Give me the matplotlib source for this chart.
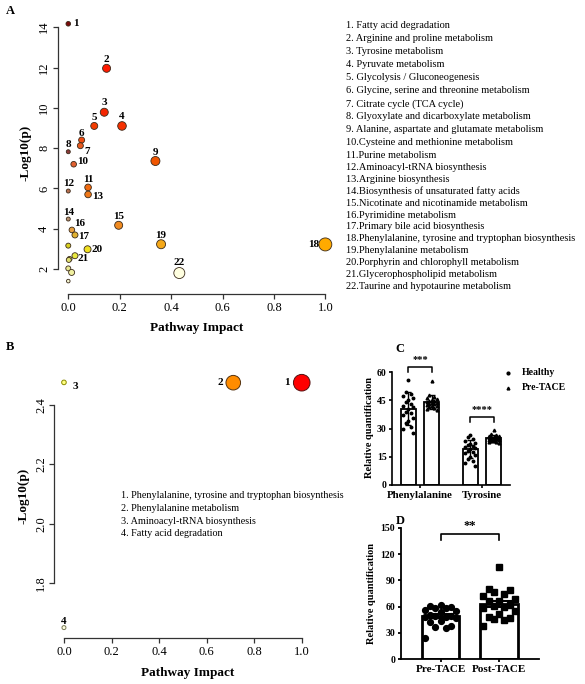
import matplotlib.pyplot as plt
from matplotlib.lines import Line2D
import numpy as np

plt.rcParams['font.family'] = ['Liberation Serif', 'DejaVu Serif']

W, H = 585, 684


def fx(px):
    return px / W


def fy(py):
    return 1 - py / H


# ---------------- data: panel A (pathway analysis, all) ----------------
a_impact = [0.0, 0.149, 0.14, 0.209, 0.101, 0.052, 0.047, 0.0, 0.339, 0.021,
            0.077, 0.0, 0.077, 0.0, 0.196, 0.014, 0.026, 1.0, 0.361, 0.075,
            0.026, 0.432, 0.0, 0.005, 0.002, 0.0, 0.013, 0.0]
a_logp = [14.17, 11.96, 9.78, 9.1, 9.1, 8.4, 8.12, 7.82, 7.36, 7.2,
          6.05, 5.87, 5.7, 4.48, 4.17, 3.94, 3.69, 3.22, 3.23, 2.98,
          2.66, 1.8, 3.16, 2.5, 2.45, 2.03, 1.83, 1.40]
a_labels = [str(i) for i in range(1, 23)] + ['', '', '', '', '', '']
a_colors = ['#7A0A0A', '#FF1A00', '#F52500', '#F53000', '#F23C00', '#F04A10',
            '#E85A20', '#8B3A3A', '#F05500', '#E06030', '#F06A10', '#B87050',
            '#F07818', '#B89070', '#F08A20', '#E8A040', '#E0B030', '#FFAA00',
            '#F5A818', '#F0E020', '#E8E840', '#FFFFE0', '#D8D020', '#D8E050',
            '#E0E070', '#E8E890', '#F0F0A0', '#F5F5D0']
a_radius = [2.3, 4.0, 4.0, 4.3, 3.5, 3.0, 3.0, 2.0, 4.5, 2.8,
            3.3, 2.0, 3.3, 2.0, 4.0, 2.8, 3.0, 6.5, 4.5, 3.5,
            3.0, 5.5, 2.5, 2.5, 2.5, 2.5, 3.0, 1.8]
# label placement (pixel offsets, alignment)
a_offsets = [(4.5, 0, 'left'), (0, 9, 'center'), (0, 10, 'center'), (0, 9, 'center'),
             (0, 8, 'center'), (0, 7, 'center'), (4.5, -6, 'left'), (0, 7.5, 'center'),
             (0, 9, 'center'), (3, 2.5, 'left'), (0, 8, 'center'), (0, 8, 'center'),
             (4, -2, 'left'), (0, 7, 'center'), (0, 9, 'center'), (2.5, 6, 'left'),
             (3.6, -1.3, 'left'), (-6, 0, 'right'), (0, 9, 'center'), (4.4, 0, 'left'),
             (2.6, -2.6, 'left'), (0, 11, 'center')]

a_pathways = ['Fatty acid degradation', 'Arginine and proline metabolism',
              'Tyrosine metabolism', 'Pyruvate metabolism',
              'Glycolysis / Gluconeogenesis', 'Glycine, serine and threonine metabolism',
              'Citrate cycle (TCA cycle)', 'Glyoxylate and dicarboxylate metabolism',
              'Alanine, aspartate and glutamate metabolism',
              'Cysteine and methionine metabolism', 'Purine metabolism',
              'Aminoacyl-tRNA biosynthesis', 'Arginine biosynthesis',
              'Biosynthesis of unsaturated fatty acids',
              'Nicotinate and nicotinamide metabolism', 'Pyrimidine metabolism',
              'Primary bile acid biosynthesis',
              'Phenylalanine, tyrosine and tryptophan biosynthesis',
              'Phenylalanine metabolism', 'Porphyrin and chlorophyll metabolism',
              'Glycerophospholipid metabolism', 'Taurine and hypotaurine metabolism']

# ---------------- data: panel B ----------------
b_impact = [1.0, 0.712, 0.0, 0.0]
b_logp = [2.475, 2.475, 2.476, 1.65]
b_labels = ['1', '2', '3', '4']
b_colors = ['#FF0000', '#FF8C00', '#FFFF80', '#FFFFE0']
b_edges = ['#551111', '#553311', '#8A8A00', '#777755']
b_radius = [8.3, 7.3, 2.3, 2.0]
b_offsets = [(-12, 0, 'right'), (-10.5, 0, 'right'), (8.5, -4, 'left'), (0, 6, 'center')]
b_pathways = ['Phenylalanine, tyrosine and tryptophan biosynthesis',
              'Phenylalanine metabolism', 'Aminoacyl-tRNA biosynthesis',
              'Fatty acid degradation']

# ---------------- data: panel C ----------------
c_groups = ['Phenylalanine', 'Tyrosine']
c_mean_healthy = [40.6, 19.1]
c_sd_healthy = [8.6, 4.8]
c_mean_pre = [44.2, 25.1]
c_sd_pre = [3.8, 1.5]
c_phe_healthy = [56, 49.5, 48.5, 47.5, 46, 45, 44, 43, 42, 41.5,
                 40.5, 39, 38, 37, 35.5, 34, 33, 31, 29.5, 27.5]
c_phe_pre = [55.3, 48, 46.5, 46, 45.5, 45, 44.5, 44.5, 44, 43.5,
             43.5, 43, 43, 42.5, 42, 42, 41.5, 41, 40.5, 40]
c_tyr_healthy = [26.5, 25.5, 24.5, 23.5, 22.5, 22, 21, 20.5, 20, 19.5,
                 19, 18, 17.5, 17, 16, 15, 14, 13, 11.5, 10]
c_tyr_pre = [29.2, 27, 26.5, 26, 26, 25.5, 25.5, 25, 25, 25,
             24.5, 24.5, 24.5, 24, 24, 23.5, 23.5, 23, 23, 22.5]

# ---------------- data: panel D ----------------
d_groups = ['Pre-TACE', 'Post-TACE']
d_mean = [49.7, 63.0]
d_sem = [2.2, 3.3]
d_pre = [62, 61, 60, 59, 58, 56, 55, 54, 50, 49,
         49, 48, 48, 47, 44, 42, 38, 37, 36, 24]
d_post = [105, 80, 79, 77, 74, 72, 69, 67, 66, 62,
          61, 60, 59, 55, 52, 48, 47, 46, 45, 38]


def spread(values, step, pattern=(0, -1, 1, -2, 2)):
    # simple deterministic swarm-like horizontal spread
    order = np.argsort(values)[::-1]
    offs = np.zeros(len(values))
    for k, idx in enumerate(order):
        offs[idx] = pattern[k % len(pattern)] * step
    return offs


def r_style(ax, xb, yb):
    for s in ['top', 'right']:
        ax.spines[s].set_visible(False)
    for s in ['left', 'bottom']:
        ax.spines[s].set_color('#333333')
        ax.spines[s].set_linewidth(0.9)
    ax.spines['bottom'].set_bounds(*xb)
    ax.spines['left'].set_bounds(*yb)
    ax.tick_params(direction='out', length=3.6, width=0.9, color='#333333',
                   labelsize=9, pad=2)
    ax.tick_params(axis='y', labelrotation=90)
    for t in ax.get_yticklabels():
        t.set_va('center')


fig = plt.figure(figsize=(W / 100, H / 100), dpi=100)
fig.patch.set_facecolor('white')

# ================= Panel A =================
axa = fig.add_axes([fx(58), fy(294), fx(335.6) - fx(58), fy(12.1) - fy(294)])
axa.set_xlim(-0.04, 1.04)
axa.set_ylim(0.76, 14.75)
sizes = [(1.44 * r) ** 2 for r in a_radius]
axa.scatter(a_impact, a_logp, s=sizes, c=a_colors, edgecolors='#3a2a1a',
            linewidths=0.6, zorder=3, clip_on=False)
for i, lab in enumerate(a_labels):
    if not lab:
        continue
    dx, dy, ha = a_offsets[i]
    axa.annotate(lab, (a_impact[i], a_logp[i]), xytext=(dx, dy),
                 textcoords='offset pixels', ha=ha, va='center',
                 fontsize=8, fontweight='bold')
axa.set_xticks([0.0, 0.2, 0.4, 0.6, 0.8, 1.0])
axa.set_yticks([2, 4, 6, 8, 10, 12, 14])
r_style(axa, (0, 1), (2, 14))
fig.text(fx(25), fy(153), '-Log10(p)', rotation=90, ha='center', va='center',
         fontsize=9.5, fontweight='bold')
fig.text(fx(197), fy(328), 'Pathway Impact', ha='center', va='center',
         fontsize=9.5, fontweight='bold')
fig.text(fx(10), fy(11), 'A', ha='center', va='center', fontsize=9, fontweight='bold')

for i, name in enumerate(a_pathways, start=1):
    sep = '. ' if i < 10 else '.'
    if i <= 11:
        yy = 26 + 12.97 * (i - 1)
    else:
        yy = 155.7 + 11.87 * (i - 11)
    fig.text(fx(346), fy(yy), f'{i}{sep}{name}', ha='left', va='center', fontsize=7.45)

# ================= Panel B =================
axb = fig.add_axes([fx(53.5), fy(638.3), fx(312.2) - fx(53.5), fy(372.3) - fy(638.3)])
axb.set_xlim(-0.044, 1.044)
axb.set_ylim(1.614, 2.51)
axb.scatter(b_impact, b_logp, s=[(1.44 * r) ** 2 for r in b_radius], c=b_colors,
            edgecolors=b_edges, linewidths=0.7, zorder=3, clip_on=False)
for i, lab in enumerate(b_labels):
    dx, dy, ha = b_offsets[i]
    axb.annotate(lab, (b_impact[i], b_logp[i]), xytext=(dx, dy),
                 textcoords='offset pixels', ha=ha, va='center',
                 fontsize=8, fontweight='bold')
axb.set_xticks([0.0, 0.2, 0.4, 0.6, 0.8, 1.0])
axb.set_yticks([1.8, 2.0, 2.2, 2.4])
r_style(axb, (0, 1), (1.8, 2.4))
axb.tick_params(axis='y', pad=1)
fig.text(fx(23), fy(496), '-Log10(p)', rotation=90, ha='center', va='center',
         fontsize=9.5, fontweight='bold')
fig.text(fx(188), fy(673), 'Pathway Impact', ha='center', va='center',
         fontsize=9.5, fontweight='bold')
fig.text(fx(10), fy(347), 'B', ha='center', va='center', fontsize=9, fontweight='bold')
for i, name in enumerate(b_pathways, start=1):
    fig.text(fx(121), fy(496 + 12.5 * (i - 1)), f'{i}. {name}', ha='left',
             va='center', fontsize=7.3)

# ================= Panel C =================
axc = fig.add_axes([fx(392.3), fy(485), fx(510) - fx(392.3), fy(372) - fy(485)])
axc.set_xlim(-0.447, 1.452)
axc.set_ylim(0, 60)
xg = np.arange(len(c_groups))
off, bw = 0.19, 0.24
axc.bar(xg - off, c_mean_healthy, bw, color='white', edgecolor='black', linewidth=1.3, zorder=1)
axc.bar(xg + off, c_mean_pre, bw, color='white', edgecolor='black', linewidth=1.3, zorder=1)
for g, (hv, pv) in enumerate([(c_phe_healthy, c_phe_pre), (c_tyr_healthy, c_tyr_pre)]):
    axc.plot(g - off + spread(hv, 0.042), hv, 'o', color='black', ms=1.8, ls='none',
             zorder=3, clip_on=False)
    axc.plot(g + off + spread(pv, 0.042), pv, '^', color='black', ms=2.0, ls='none',
             zorder=3, clip_on=False)
axc.errorbar(xg - off, c_mean_healthy, yerr=c_sd_healthy, fmt='none', ecolor='black',
             elinewidth=1.0, capsize=2.5, capthick=1.0, zorder=4)
axc.errorbar(xg + off, c_mean_pre, yerr=c_sd_pre, fmt='none', ecolor='black',
             elinewidth=1.0, capsize=2.5, capthick=1.0, zorder=4)
# significance brackets
for g, ytop, tip, stars in [(0, 62.7, 60.0, '***'), (1, 36.2, 33.5, '****')]:
    axc.plot([g - off, g - off, g + off, g + off], [tip, ytop, ytop, tip], color='black',
             lw=1.1, clip_on=False)
    axc.text(g, ytop + 1.5, stars, ha='center', va='bottom', fontsize=7.5,
             fontweight='bold')
axc.set_xticks(xg)
axc.set_xticklabels(c_groups)
axc.set_yticks([0, 15, 30, 45, 60])
for s in ['top', 'right']:
    axc.spines[s].set_visible(False)
for s in ['left', 'bottom']:
    axc.spines[s].set_linewidth(1.2)
axc.tick_params(length=2.5, width=1.2, labelsize=7, pad=1.5)
axc.tick_params(axis='x', labelsize=7.8)
for t in axc.get_xticklabels() + axc.get_yticklabels():
    t.set_fontweight('bold')
fig.text(fx(369), fy(428), 'Relative quantification', rotation=90, ha='center',
         va='center', fontsize=7.5, fontweight='bold')
fig.text(fx(400), fy(349), 'C', ha='center', va='center', fontsize=9, fontweight='bold')
# legend
for yy, mk, lab in [(372.7, 'o', 'Healthy'), (387.7, '^', 'Pre-TACE')]:
    fig.add_artist(Line2D([fx(508.3)], [fy(yy)], transform=fig.transFigure, marker=mk,
                          color='black', ms=2.0, ls='none'))
    fig.text(fx(521.5), fy(yy), lab, ha='left', va='center', fontsize=7,
             fontweight='bold')

# ================= Panel D =================
axd = fig.add_axes([fx(400.7), fy(659.3), fx(539.3) - fx(400.7), fy(527.7) - fy(659.3)])
axd.set_xlim(-0.678, 1.683)
axd.set_ylim(0, 150)
xd = np.arange(len(d_groups))
axd.bar(xd, d_mean, 0.64, color='white', edgecolor='black', linewidth=2.0, zorder=1)
wide = (0, -2, 2, -1, 1, -3, 3)
axd.plot(xd[0] + spread(d_pre, 0.09, wide), d_pre, 'o', color='black', ms=4.2, ls='none',
         zorder=3, clip_on=False)
axd.plot(xd[1] + spread(d_post, 0.09, wide), d_post, 's', color='black', ms=4.0, ls='none',
         zorder=3, clip_on=False)
axd.errorbar(xd, d_mean, yerr=d_sem, fmt='none', ecolor='black', elinewidth=1.5,
             capsize=9, capthick=1.5, zorder=4)
axd.plot([0, 0, 1, 1], [136, 142.6, 142.6, 136], color='black', lw=1.2, clip_on=False)
axd.text(0.5, 145, '**', ha='center', va='bottom', fontsize=9, fontweight='bold')
axd.set_xticks(xd)
axd.set_xticklabels(d_groups)
axd.set_yticks([0, 30, 60, 90, 120, 150])
for s in ['top', 'right']:
    axd.spines[s].set_visible(False)
for s in ['left', 'bottom']:
    axd.spines[s].set_linewidth(1.3)
axd.tick_params(length=2.5, width=1.3, labelsize=7, pad=1.5)
axd.tick_params(axis='x', labelsize=8)
for t in axd.get_xticklabels() + axd.get_yticklabels():
    t.set_fontweight('bold')
fig.text(fx(372), fy(593), 'Relative quantification', rotation=90, ha='center',
         va='center', fontsize=7.5, fontweight='bold')
fig.text(fx(400), fy(521), 'D', ha='center', va='center', fontsize=9, fontweight='bold')

fig.savefig('out.png', dpi=100, facecolor='white')
